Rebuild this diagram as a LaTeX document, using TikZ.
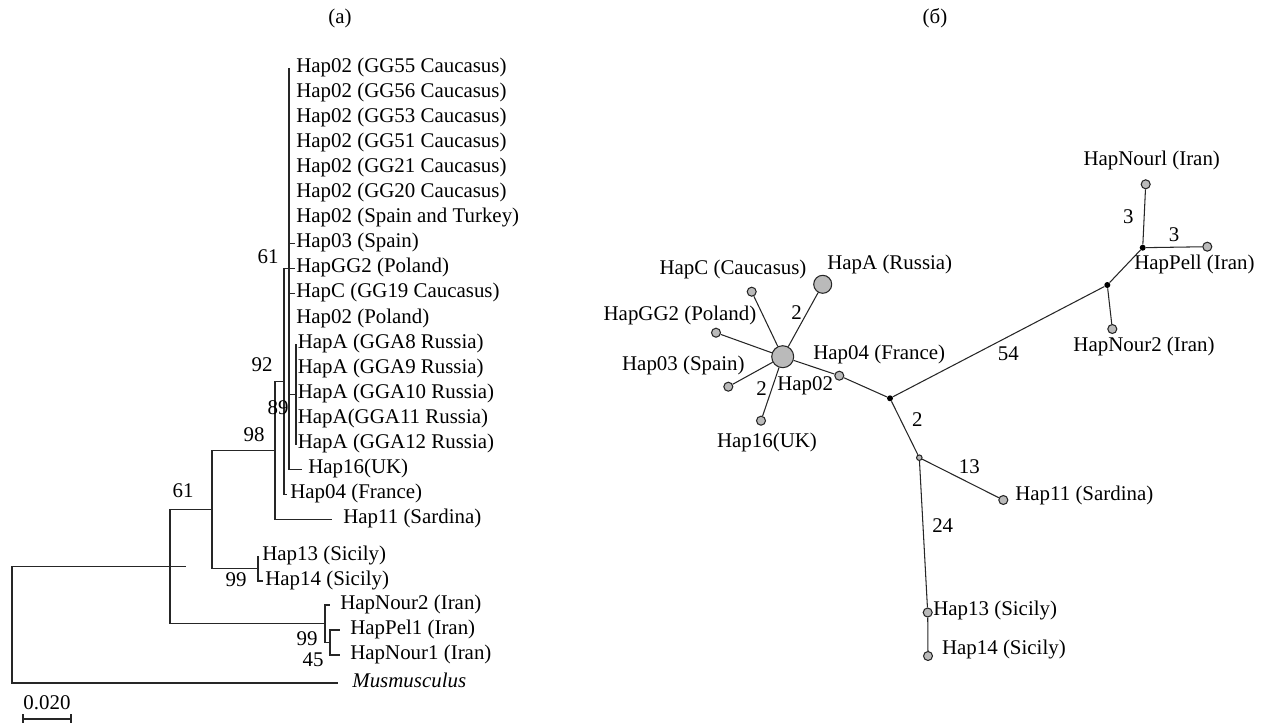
\documentclass[tikz,border=0pt]{standalone}
\usepackage{fontspec}
\setmainfont{Liberation Serif}
\usepackage{tikz}
\usetikzlibrary{calc}

\tikzset{
  branch/.style={line width=0.6pt, draw=black!85},
  link/.style={line width=0.6pt, draw=black!85},
  taxon/.style={anchor=west, inner ysep=0pt, inner xsep=#1,
                text height=0.68em, text depth=0.22em},
  taxon/.default=0.02cm,
  boot/.style={inner sep=0pt, text height=0.68em, text depth=0pt},
  hap/.style={circle, draw=black!85, fill=black!27, line width=0.6pt,
              inner sep=0pt, minimum size=0.18cm},
  median/.style={circle, fill=black, inner sep=0pt, minimum size=0.12cm},
  netlbl/.style={inner sep=0pt, text height=0.68em, text depth=0.22em}
}

\begin{document}
\begin{tikzpicture}[x=0.02cm, y=-0.02cm, font=\fontsize{11.9}{14}\selectfont]

\useasboundingbox (0,0) rectangle (1264,723);

% ---------------------------------------------------------------------------
% Panel captions
% ---------------------------------------------------------------------------
\node (capA) at (340,18) {(a)};
\node (capB) at (935,18) {(б)};

% ===========================================================================
%  (a) NJ TREE
% ===========================================================================

% ---------------------------------------------------------------------------
% Leaves (rows of the upper clade)
% ---------------------------------------------------------------------------
\foreach \i/\xx/\gap/\txt in {
    0/289/0.14cm/{Hap02 (GG55 Caucasus)},
    1/289/0.14cm/{Hap02 (GG56 Caucasus)},
    2/289/0.14cm/{Hap02 (GG53 Caucasus)},
    3/289/0.14cm/{Hap02 (GG51 Caucasus)},
    4/289/0.14cm/{Hap02 (GG21 Caucasus)},
    5/289/0.14cm/{Hap02 (GG20 Caucasus)},
    6/289/0.14cm/{Hap02 (Spain and Turkey)},
    7/295/0.02cm/{Hap03 (Spain)},
    8/295/0.02cm/{HapGG2 (Poland)},
    9/295/0.02cm/{HapC (GG19 Caucasus)},
    10/289/0.14cm/{Hap02 (Poland)},
    11/296/0.03cm/{HapA (GGA8 Russia)},
    12/296/0.03cm/{HapA (GGA9 Russia)},
    13/296/0.03cm/{HapA (GGA10 Russia)},
    14/296/0.03cm/{HapA(GGA11 Russia)},
    15/296/0.03cm/{HapA (GGA12 Russia)},
    16/302/0.12cm/{Hap16(UK)},
    17/287/0.06cm/{Hap04 (France)},
    18/332/0.22cm/{Hap11 (Sardina)}} {
    \pgfmathsetmacro\yy{68+25.1*\i}
    \node[taxon=\gap] (t\i) at (\xx,\yy) {\txt};
}

% Lower leaves
\node[taxon=0.08cm] (s13) at (258,556) {Hap13 (Sicily)};
\node[taxon=0.04cm] (s14) at (263,581) {Hap14 (Sicily)};
\node[taxon=0.20cm] (i2)  at (330,605) {HapNour2 (Iran)};
\node[taxon=0.20cm] (i1p) at (340,630) {HapPel1 (Iran)};
\node[taxon=0.20cm] (i1n) at (340,655) {HapNour1 (Iran)};
\node[taxon=0.28cm] (mus) at (338,683) {\textit{Musmusculus}};

% ---------------------------------------------------------------------------
% Internal nodes
% ---------------------------------------------------------------------------
\coordinate (U)    at (289,268.8);
\coordinate (HA)   at (296,394.3);
\coordinate (W)    at (284,381.75);
\coordinate (Z)    at (275,450.8);
\coordinate (S)    at (258,568.5);
\coordinate (Y)    at (212,509.65);
\coordinate (Ii)   at (330,642.5);
\coordinate (I)    at (325,623.75);
\coordinate (X)    at (170,566.7);
\coordinate (Xend) at (186,566.7);
\coordinate (R)    at (12,624.85);

% ---------------------------------------------------------------------------
% Branches
% ---------------------------------------------------------------------------
\foreach \i in {0,...,10,16} {
    \draw[branch] (U) |- (t\i.west);
}
\draw[branch] (U) |- (HA);
\foreach \i in {11,...,15} {
    \draw[branch] (HA) |- (t\i.west);
}
\draw[branch] (W) |- (U);
\draw[branch] (W) |- (t17.west);
\draw[branch] (Z) |- (W);
\draw[branch] (Z) |- (t18.west);
\draw[branch] (S) |- (s13.west);
\draw[branch] (S) |- (s14.west);
\draw[branch] (Y) |- (Z);
\draw[branch] (Y) |- (S);
\draw[branch] (Ii) |- (i1p.west);
\draw[branch] (Ii) |- (i1n.west);
\draw[branch] (I) |- (i2.west);
\draw[branch] (I) |- (Ii);
\draw[branch] (X) |- (Y);
\draw[branch] (X) |- (I);
\draw[branch] (R) |- (Xend);
\draw[branch] (R) |- (mus.west);

% ---------------------------------------------------------------------------
% Bootstrap values
% ---------------------------------------------------------------------------
\foreach \nm/\xx/\yy/\val in {bU/268/258/61, bW/262/366/92, bHA/278/409/89,
    bZ/254/436/98, bY/183/492/61, bS/236/581/99, bI/307/640/99, bIi/313/661/45} {
    \node[boot] (\nm) at (\xx,\yy) {\val};
}

% ---------------------------------------------------------------------------
% Scale bar
% ---------------------------------------------------------------------------
\coordinate (barL) at (23,719);
\coordinate (barR) at (71,719);
\draw[branch] (barL) -- (barR);
\draw[branch] (23,714) -- (23,723) (71,714) -- (71,723);
\node[boot] (scale) at (47,704) {0.020};

% ===========================================================================
%  (б) MEDIAN-JOINING NETWORK
% ===========================================================================

% ---------------------------------------------------------------------------
% Haplotype circles and median vectors
% ---------------------------------------------------------------------------
\node[hap, minimum size=0.44cm] (h02) at (782.7,356.7) {};
\node[hap, minimum size=0.36cm] (hA)  at (822.7,284.3) {};
\node[hap] (hC)   at (751.7,291.7) {};
\node[hap] (hGG2) at (716,332.7) {};
\node[hap] (h03)  at (728.3,386.7) {};
\node[hap] (h16)  at (761,420.7) {};
\node[hap] (h04)  at (839.3,375.7) {};
\node[hap] (hN1)  at (1145.7,184.3) {};
\node[hap] (hP1)  at (1207.3,246.7) {};
\node[hap] (hN2)  at (1112.3,329) {};
\node[hap] (h11)  at (1003.3,500) {};
\node[hap] (h13)  at (927.7,612.5) {};
\node[hap] (h14)  at (928,656) {};

\node[median] (m1) at (890,398.3) {};
\node[median] (m2) at (1107.3,285) {};
\node[median] (m3) at (1142.7,247.7) {};
\node[hap, minimum size=0.11cm] (m4) at (919.3,457.7) {};

% ---------------------------------------------------------------------------
% Links
% ---------------------------------------------------------------------------
\foreach \a/\b in {h02/hA, h02/hC, h02/hGG2, h02/h03, h02/h16, h02/h04,
    h04/m1, m1/m2, m2/m3, m3/hN1, m3/hP1, m2/hN2, m1/m4, m4/h11, m4/h13,
    h13/h14} {
    \draw[link] (\a) -- (\b);
}

% ---------------------------------------------------------------------------
% Haplotype labels
% ---------------------------------------------------------------------------
\node[netlbl] (lC)   at (733,270) {HapC (Caucasus)};
\node[netlbl, anchor=west] (lA)   at (827,265) {HapA (Russia)};
\node[netlbl, anchor=east] (lGG2) at (756.7,316.7) {HapGG2 (Poland)};
\node[netlbl, anchor=east] (l03)  at (745,366.7) {Hap03 (Spain)};
\node[netlbl, anchor=west] (l02)  at (777,386.7) {Hap02};
\node[netlbl, anchor=west] (l04)  at (813,355) {Hap04 (France)};
\node[netlbl] (l16)  at (767,443.3) {Hap16(UK)};
\node[netlbl] (lN1)  at (1151.7,161.7) {HapNourl (Iran)};
\node[netlbl, anchor=west] (lP1)  at (1134,265) {HapPell (Iran)};
\node[netlbl] (lN2)  at (1144,347.7) {HapNour2 (Iran)};
\node[netlbl, anchor=west] (l11)  at (1015,496.7) {Hap11 (Sardina)};
\node[netlbl, anchor=west] (l13)  at (933,611) {Hap13 (Sicily)};
\node[netlbl, anchor=west] (l14)  at (941.7,650) {Hap14 (Sicily)};

% ---------------------------------------------------------------------------
% Mutation counts
% ---------------------------------------------------------------------------
\foreach \nm/\xx/\yy/\val in {cA/796.7/313.3/2, c16/761.7/389.3/2,
    c54/1008.3/355/54, cN1/1128.3/217.3/3, cP1/1174/236/3,
    cm4/917.3/420.7/2, c11/969.3/467.7/13, c13/942.7/526.7/24} {
    \node[boot] (\nm) at (\xx,\yy) {\val};
}

\end{tikzpicture}
\end{document}
